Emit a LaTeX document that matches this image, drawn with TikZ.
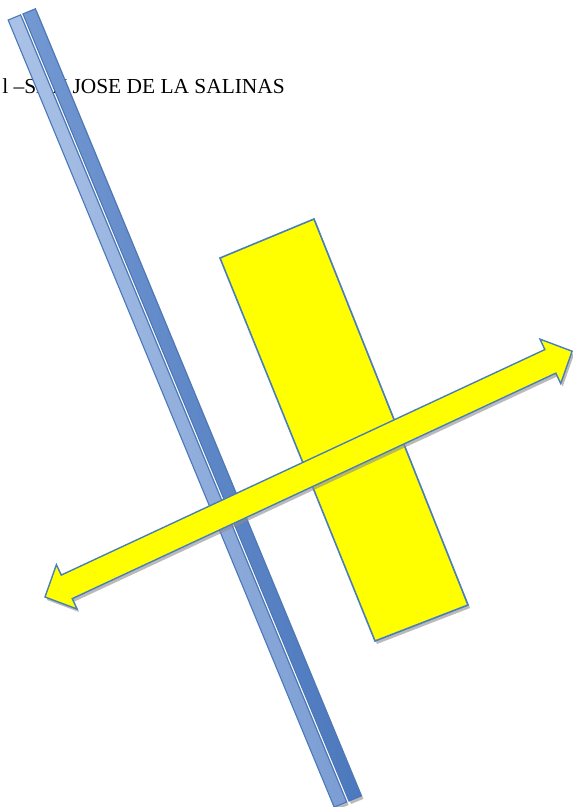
\documentclass[tikz,border=0pt]{standalone}
\usepackage{fontspec}
\setmainfont{Liberation Serif}
\usetikzlibrary{calc,shadows}
\definecolor{BarEdge}{HTML}{4A78BA}
\definecolor{BarLightA}{HTML}{AAC2E7}
\definecolor{BarLightB}{HTML}{7B9DD3}
\definecolor{BarDarkA}{HTML}{7398D2}
\definecolor{BarDarkB}{HTML}{4C78BD}
\definecolor{PlateEdge}{HTML}{4A7EBB}
\definecolor{PlateFill}{HTML}{FFFF00}
\tikzset{
  softshadow/.style={drop shadow={shadow xshift=2pt, shadow yshift=-3pt, fill=black!45, opacity=.6}},
  lightstrip/.style={draw=BarEdge, line width=1.1pt, left color=BarLightA, right color=BarLightB, minimum width=13.5pt, minimum height=852pt, inner sep=0pt, rotate=22.5, softshadow},
  darkstrip/.style={draw=BarEdge, line width=1.1pt, left color=BarDarkA, right color=BarDarkB, minimum width=13.5pt, minimum height=852pt, inner sep=0pt, rotate=22.5, softshadow},
  plate/.style={draw=PlateEdge, line width=1.6pt, fill=PlateFill, line join=miter, softshadow},
  roadarrow/.style={draw=PlateEdge, line width=1.4pt, fill=PlateFill, line join=miter, softshadow},
  placename/.style={font=\fontsize{21.4}{26}\selectfont, anchor=base east, inner sep=0pt}
}
\begin{document}
\begin{tikzpicture}[x=1pt, y=-1pt]
    \useasboundingbox (0,0) rectangle (573,807);

    \node[placename] (place) at (285,93) {l –SAN JOSE DE LA SALINAS};

    % blue bar
    \node[lightstrip] (barleft) at (177.4,411.0) {};
    \node[darkstrip] (barright) at (192.2,404.9) {};

    % yellow plate
    \coordinate (p1) at (220,258);
    \coordinate (p2) at (314,219);
    \coordinate (p3) at (468,605);
    \coordinate (p4) at (375,641);
    \draw[plate] (p1) -- (p2) -- (p3) -- (p4) -- cycle;

    % double arrow
    \begin{scope}[shift={(45,597)}, rotate=25]
      \draw[roadarrow] (0,0) -- (24,-24.5) -- (24,-13) -- (557.6,-13) -- (557.6,-24.5)
        -- (581.6,0) -- (557.6,24.5) -- (557.6,13) -- (24,13) -- (24,24.5) -- cycle;
    \end{scope}
\end{tikzpicture}
\end{document}
